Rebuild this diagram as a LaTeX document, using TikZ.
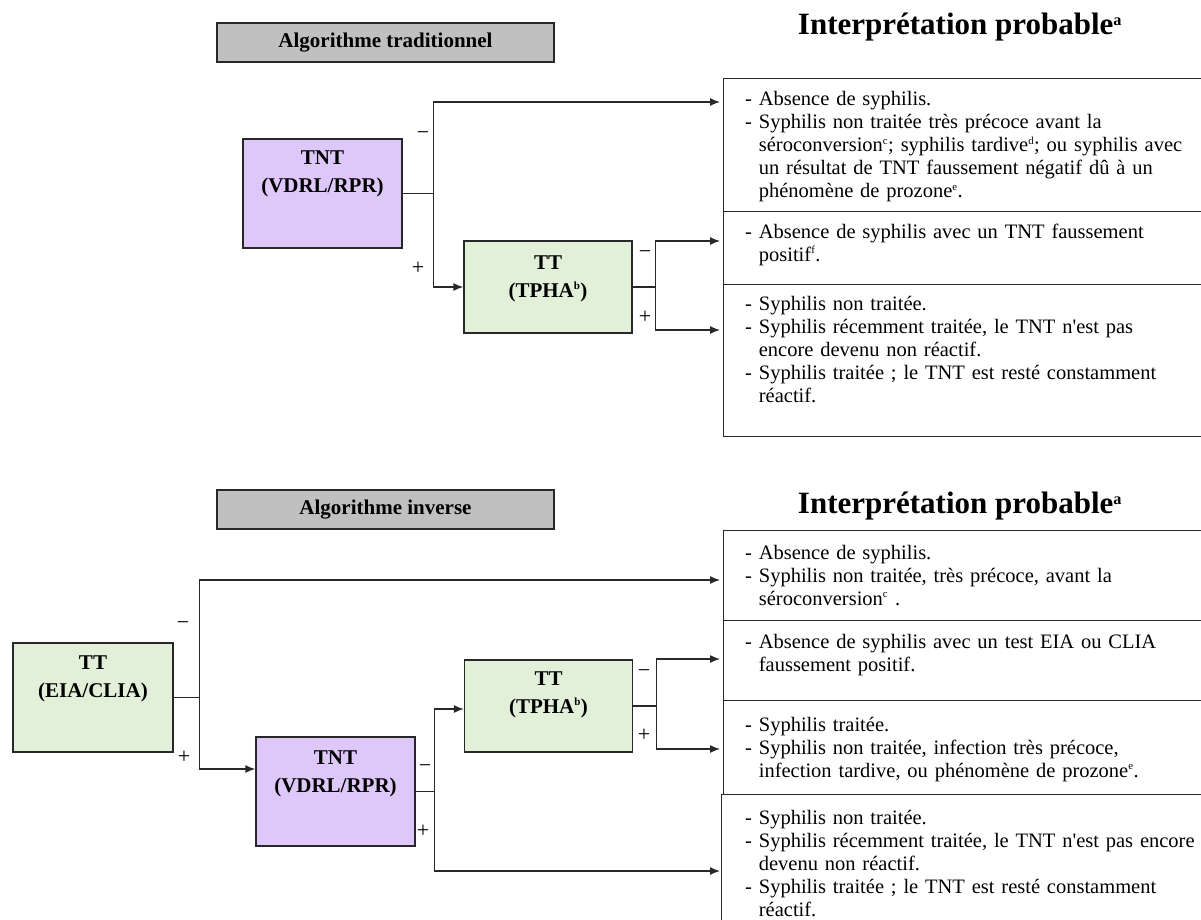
\documentclass[tikz,border=0pt]{standalone}
\usepackage{fontspec}
\usepackage{graphicx}
\setmainfont{Liberation Serif}
\usetikzlibrary{arrows.meta}
\definecolor{lav}{RGB}{221,200,249}
\definecolor{lgreen}{RGB}{226,239,217}
\definecolor{gbox}{RGB}{192,192,192}
\definecolor{ink}{RGB}{40,40,40}
\tikzset{
  conn/.style={draw=ink, line width=1.3pt},
  arr/.style={conn, -{Latex[length=10pt,width=8pt]}},
  procbox/.style={draw=ink, line width=1.3pt, inner sep=0pt},
  tntbox/.style={procbox, fill=lav, minimum width=159pt, minimum height=109pt},
  ttboxa/.style={procbox, fill=lgreen, minimum width=160pt, minimum height=109pt},
  ttboxb/.style={procbox, fill=lgreen, minimum width=168pt, minimum height=92pt},
  graybox/.style={procbox, fill=gbox, minimum width=337pt, minimum height=39pt, font=\bfseries\fontsize{21}{25}\selectfont},
  boxlbl/.style={anchor=base, inner sep=0pt, text width=170pt, align=center, font=\bfseries\fontsize{21}{28}\selectfont},
  resbox/.style={draw=ink, line width=1.3pt, anchor=north west, inner sep=0pt, minimum width=500pt},
  restext/.style={anchor=base west, inner sep=0pt, text width=520pt, align=left, font=\fontsize{20.5}{23}\selectfont},
  heading/.style={inner sep=0pt, font=\bfseries\fontsize{31}{35}\selectfont},
  sign/.style={inner sep=0pt, font=\fontsize{22}{24}\selectfont}
}
\newcommand{\ind}{\hphantom{-~}}
\newcommand{\sps}[1]{\textsuperscript{\scalebox{0.75}{#1}}}
\begin{document}
\begin{tikzpicture}[x=1pt,y=-1pt]
\useasboundingbox (0,0) rectangle (1201,920);
\clip (0,0) rectangle (1201,920);

% ===== Top: traditional algorithm =====
\node[graybox] (g1) at (385.5,42.5) {Algorithme traditionnel};
\node[heading] (h1) at (960,27) {Interprétation probable\sps{a}};

\node[tntbox] (tnt1) at (322.5,193.5) {};
\node[boxlbl] (tnt1l) at (322.5,165) {TNT\\(VDRL/RPR)};
\node[ttboxb] (tt1) at (548,287) {};
\node[boxlbl] (tt1l) at (548,269) {TT\\(TPHA\sps{b})};

\node[resbox, minimum height=133pt] (r1) at (723,78) {};
\node[resbox, minimum height=73pt] (r2) at (723,211) {};
\node[resbox, minimum height=152pt] (r3) at (723,284) {};

\node[restext] (r1t) at (745,106) {- Absence de syphilis.\\
- Syphilis non traitée très précoce avant la\\
\ind séroconversion\sps{c}; syphilis tardive\sps{d}; ou syphilis avec\\
\ind un résultat de TNT faussement négatif dû à un\\
\ind phénomène de prozone\sps{e}.};
\node[restext] (r2t) at (745,238) {- Absence de syphilis avec un TNT faussement\\
\ind positif\sps{f}.};
\node[restext] (r3t) at (745,310) {- Syphilis non traitée.\\
- Syphilis récemment traitée, le TNT n\textquotesingle est pas\\
\ind encore devenu non réactif.\\
- Syphilis traitée ; le TNT est resté constamment\\
\ind réactif.};

\coordinate (t1) at (720,102);
\coordinate (t2) at (720,241);
\coordinate (t3) at (720,330);

\draw[conn] (tnt1.east) -- ++(31,0) coordinate (s1);
\draw[arr] (s1) |- (t1);
\draw[arr] (s1) |- (tt1.west);
\draw[conn] (tt1.east) -- ++(23,0) coordinate (s2);
\draw[arr] (s2) |- (t2);
\draw[arr] (s2) |- (t3);

\node[sign] (m1) at (423,136) {−};
\node[sign] (p1) at (418,268) {+};
\node[sign] (m2) at (645,255) {−};
\node[sign] (p2) at (645,317) {+};

% ===== Bottom: reverse algorithm =====
\node[graybox] (g2) at (385.5,509.5) {Algorithme inverse};
\node[heading] (h2) at (960,506) {Interprétation probable\sps{a}};

\node[ttboxa] (eia) at (93,697.5) {};
\node[boxlbl] (eial) at (93,669) {TT\\(EIA/CLIA)};
\node[tntbox] (tnt2) at (335.5,791.5) {};
\node[boxlbl] (tnt2l) at (335.5,764) {TNT\\(VDRL/RPR)};
\node[ttboxb] (tt2) at (548.5,706) {};
\node[boxlbl] (tt2l) at (548.5,685) {TT\\(TPHA\sps{b})};

\node[resbox, minimum height=90pt] (r4) at (723,530) {};
\node[resbox, minimum height=80pt] (r5) at (723,620) {};
\node[resbox, minimum height=94pt] (r6) at (723,700) {};
\node[resbox, minimum height=140pt] (r7) at (721,794) {};

\node[restext] (r4t) at (745,559) {- Absence de syphilis.\\
- Syphilis non traitée, très précoce, avant la\\
\ind séroconversion\sps{c} .};
\node[restext] (r5t) at (745,648) {- Absence de syphilis avec un test EIA ou CLIA\\
\ind faussement positif.};
\node[restext] (r6t) at (745,731) {- Syphilis traitée.\\
- Syphilis non traitée, infection très précoce,\\
\ind infection tardive, ou phénomène de prozone\sps{e}.};
\node[restext] (r7t) at (745,824) {- Syphilis non traitée.\\
- Syphilis récemment traitée, le TNT n\textquotesingle est pas encore\\
\ind devenu non réactif.\\
- Syphilis traitée ; le TNT est resté constamment\\
\ind réactif.};

\coordinate (t4) at (720,580);
\coordinate (t5) at (720,659);
\coordinate (t6) at (720,749);
\coordinate (t7) at (720,871);

\draw[conn] (eia.east) -- ++(26,0) coordinate (s3);
\draw[arr] (s3) |- (t4);
\draw[arr] (s3) |- ([yshift=22.5pt]tnt2.west);
\draw[conn] (tnt2.east) -- ++(19,0) coordinate (s4);
\draw[arr] (s4) |- ([yshift=-3pt]tt2.west);
\draw[arr] (s4) |- (t7);
\draw[conn] (tt2.east) -- ++(23,0) coordinate (s5);
\draw[arr] (s5) |- (t5);
\draw[arr] (s5) |- (t6);

\node[sign] (m3) at (183,626) {−};
\node[sign] (p3) at (184,757) {+};
\node[sign] (m4) at (425,769) {−};
\node[sign] (p4) at (423,831) {+};
\node[sign] (m5) at (644,674) {−};
\node[sign] (p5) at (644,735) {+};
\end{tikzpicture}
\end{document}
